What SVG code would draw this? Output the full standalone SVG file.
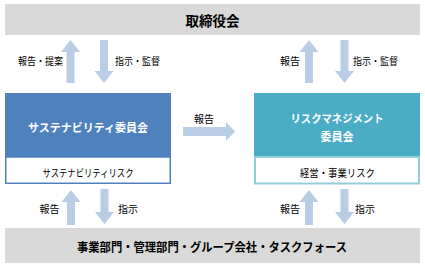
<svg xmlns="http://www.w3.org/2000/svg" width="425" height="267" viewBox="0 0 425 267">
<style>
text{font-family:"Noto Sans CJK JP","Noto Sans CJK SC",sans-serif;text-anchor:middle;dominant-baseline:central;fill:#000}
.b{font-weight:bold}
.w{fill:#fff}
.lbl{font-size:10px}
.arr{fill:#B9CDE5}
.bar{fill:#D9D9D9}
</style>
<defs>
<polygon id="up" points="0,0 9.5,12 4,12 4,43 -4,43 -4,12 -9.5,12"/>
<polygon id="upS" points="0,0 9.5,12 4,12 4,35 -4,35 -4,12 -9.5,12"/>
</defs>
<g id="board">
<rect class="bar" x="5" y="4" width="415" height="31"/>
<text class="b" x="212.5" y="20" font-size="13.5">取締役会</text>
</g>
<g id="sustainability">
<rect x="5" y="93" width="166" height="64" fill="#4F81BD"/>
<text class="b w" x="88" y="127" font-size="11.5" textLength="120" lengthAdjust="spacingAndGlyphs">サステナビリティ委員会</text>
<rect x="5.75" y="157" width="164.5" height="26.25" fill="#fff" stroke="#4F81BD" stroke-width="1.5"/>
<text x="88" y="172.5" font-size="10.5" textLength="91" lengthAdjust="spacingAndGlyphs">サステナビリティリスク</text>
</g>
<g id="risk">
<rect x="254" y="93" width="166" height="64" fill="#4BACC6"/>
<text class="b w" x="337" y="117.5" font-size="11" textLength="93" lengthAdjust="spacingAndGlyphs">リスクマネジメント</text>
<text class="b w" x="337" y="135.5" font-size="11">委員会</text>
<rect x="255" y="157" width="164" height="26.5" fill="#fff" stroke="#92CDDC" stroke-width="2"/>
<text x="337.5" y="172.5" font-size="10.5" textLength="75" lengthAdjust="spacingAndGlyphs">経営・事業リスク</text>
</g>
<g id="departments">
<rect class="bar" x="5" y="228" width="415" height="35"/>
<text class="b" x="212" y="246" font-size="12" textLength="270" lengthAdjust="spacingAndGlyphs">事業部門・管理部門・グループ会社・タスクフォース</text>
</g>
<g id="connectors">
<use href="#up" class="arr" transform="translate(70.5,40)"/>
<use href="#up" class="arr" transform="translate(104,83) scale(1,-1)"/>
<use href="#up" class="arr" transform="translate(309,40)"/>
<use href="#up" class="arr" transform="translate(344.5,83) scale(1,-1)"/>
<use href="#upS" class="arr" transform="translate(71,190)"/>
<use href="#upS" class="arr" transform="translate(104.5,224) scale(1,-1)"/>
<use href="#upS" class="arr" transform="translate(309,190)"/>
<use href="#upS" class="arr" transform="translate(344.5,224) scale(1,-1)"/>
<polygon class="arr" points="183,127 226,127 226,122 235,131.5 226,141 226,136 183,136"/>
<text class="lbl" x="40.5" y="60" textLength="45" lengthAdjust="spacingAndGlyphs">報告・提案</text>
<text class="lbl" x="137.5" y="60" textLength="45" lengthAdjust="spacingAndGlyphs">指示・監督</text>
<text class="lbl" x="290" y="60">報告</text>
<text class="lbl" x="375.5" y="60" textLength="45" lengthAdjust="spacingAndGlyphs">指示・監督</text>
<text class="lbl" x="204" y="118">報告</text>
<text class="lbl" x="49.5" y="208">報告</text>
<text class="lbl" x="128" y="208">指示</text>
<text class="lbl" x="290" y="208">報告</text>
<text class="lbl" x="365" y="208">指示</text>
</g>
</svg>
